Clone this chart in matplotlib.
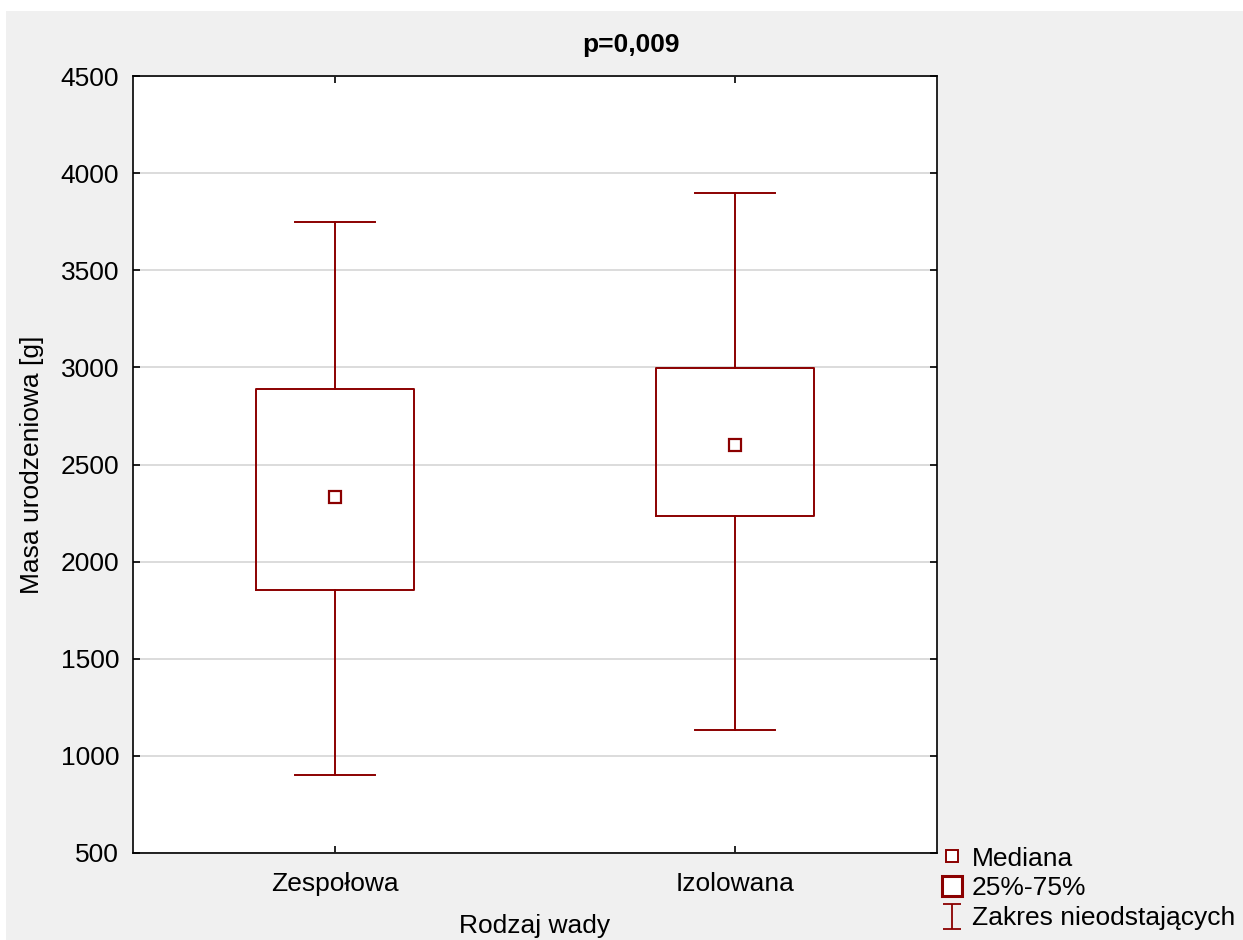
from matplotlib.lines import Line2D
from matplotlib.patches import Rectangle
from matplotlib.path import Path
import matplotlib.pyplot as plt

plt.rcParams["font.family"] = ["Liberation Sans", "DejaVu Sans"]
plt.rcParams["font.size"] = 19

GROUPS = ["Zespołowa", "Izolowana"]
WHISKER_LOW = [900, 1135]
Q1 = [1852, 2235]
MEDIAN = [2335, 2600]
Q3 = [2888, 2998]
WHISKER_HIGH = [3750, 3900]
Y_TICKS = [500, 1000, 1500, 2000, 2500, 3000, 3500, 4000, 4500]

BOX_COLOR = "#8b0000"
BG = "#f0f0f0"
W, H = 1243, 940

fig = plt.figure(figsize=(W / 100, H / 100), dpi=100, facecolor="white")
fig.patches.append(Rectangle((6 / W, -0.01), 1.1, 1.01 - 11 / H, transform=fig.transFigure,
                             facecolor=BG, edgecolor="none", zorder=-10))
ax = fig.add_axes([133 / W, 1 - 853 / H, (937 - 133) / W, (853 - 76) / H])
ax.set_facecolor("white")

bxp_stats = []
for name, lo, q1, med, q3, hi in zip(GROUPS, WHISKER_LOW, Q1, MEDIAN, Q3, WHISKER_HIGH):
    bxp_stats.append({"label": name, "whislo": lo, "q1": q1, "med": med,
                      "q3": q3, "whishi": hi, "fliers": []})

line_kw = dict(color=BOX_COLOR, linewidth=1.4)
ax.bxp(bxp_stats, positions=range(len(GROUPS)), widths=0.395, showcaps=True,
       capwidths=0.2, showfliers=False,
       boxprops=line_kw, whiskerprops=line_kw, capprops=line_kw,
       medianprops=dict(linewidth=0, alpha=0))
ax.plot(range(len(GROUPS)), MEDIAN, linestyle="none", marker="s", markersize=9,
        markerfacecolor="white", markeredgecolor=BOX_COLOR, markeredgewidth=1.6, zorder=5)

ax.set_xlim(-0.505, 1.505)
ax.set_ylim(500, 4500)
ax.set_yticks(Y_TICKS)
ax.set_xticks(range(len(GROUPS)))
ax.set_xticklabels(GROUPS)
ax.yaxis.grid(True, color="#d6d6d6", linewidth=1.2)
ax.set_axisbelow(True)
ax.tick_params(direction="in", length=5, width=1.2, top=True, right=True)
ax.tick_params(axis="x", pad=14)
ax.tick_params(axis="y", pad=10)
for spine in ax.spines.values():
    spine.set_linewidth(1.2)

ax.set_xlabel("Rodzaj wady", labelpad=13)
ax.set_ylabel("Masa urodzeniowa [g]", labelpad=12)
fig.text(631 / W, 1 - 45 / H, "p=0,009", ha="center", va="center", fontweight="bold")

# whisker glyph for the legend: vertical bar with caps
whisker_glyph = Path([(-0.75, -1), (0.75, -1), (0, -1), (0, 1), (-0.75, 1), (0.75, 1)],
                     [Path.MOVETO, Path.LINETO, Path.MOVETO, Path.LINETO,
                      Path.MOVETO, Path.LINETO])
handles = [
    Line2D([], [], linestyle="none", marker="s", markersize=8, markerfacecolor="white",
           markeredgecolor=BOX_COLOR, markeredgewidth=1.4),
    Line2D([], [], linestyle="none", marker="s", markersize=14, markerfacecolor="white",
           markeredgecolor=BOX_COLOR, markeredgewidth=2.2),
    Line2D([], [], linestyle="none", marker=whisker_glyph, markersize=18,
           markerfacecolor="none", markeredgecolor=BOX_COLOR, markeredgewidth=1.3),
]
fig.legend(handles, ["Mediana", "25%-75%", "Zakres nieodstających"],
           loc="upper left", bbox_to_anchor=(936 / W, 1 - 844 / H), frameon=False,
           handlelength=1.0, handletextpad=0.25, labelspacing=0.22, borderaxespad=0,
           borderpad=0.1)

fig.savefig("out.png", dpi=100, facecolor=fig.get_facecolor())
